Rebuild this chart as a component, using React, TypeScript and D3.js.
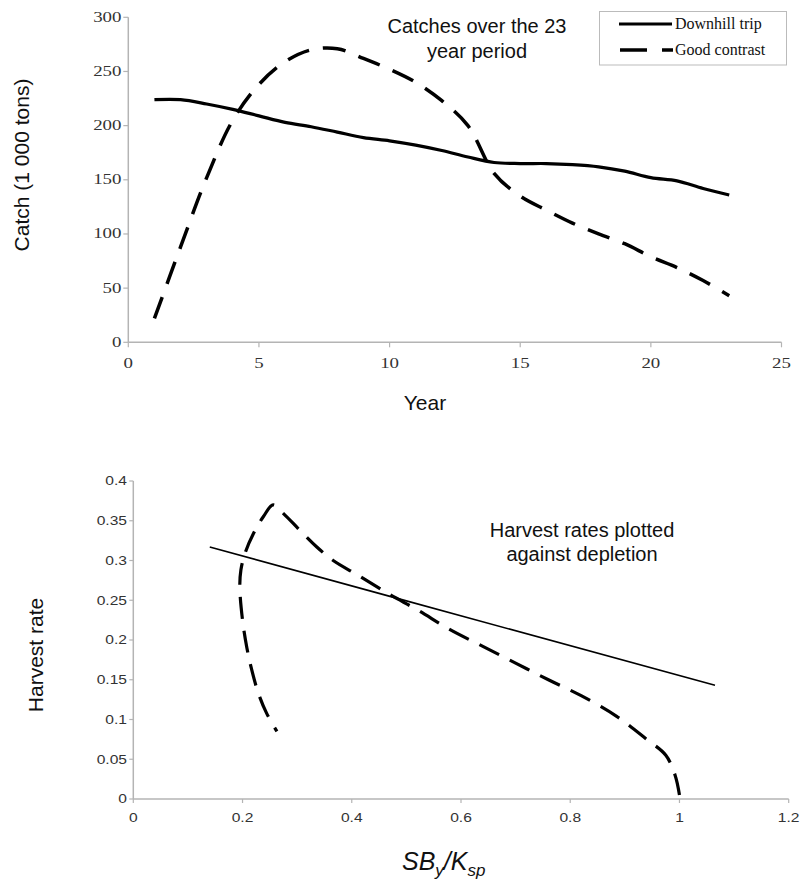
import React from "react";
import * as d3 from "d3";

// ---- Top chart data ----
const years = [1,2,3,4,5,6,7,8,9,10,11,12,13,14,15,16,17,18,19,20,21,22,23];
const downhillCatch = [224,224,220,215,209,203,199,194,189,186,182,177,171,166,165,165,164,162,158,152,149,142,136];
const goodCatch = [22,88,152,205,238,259,270,271,262,252,240,223,200,156,135,122,110,100,91,79,69,57,43];
const topXTicks = [0,5,10,15,20,25];
const topYTicks = [0,50,100,150,200,250,300];

// ---- Bottom chart data (depletion, harvest rate) ----
const downhillDepletion = [0.14,0.48,1.065];
const downhillHarvest = [0.317,0.253,0.143];
const goodDepletion = [1.0,0.992,0.975,0.94,0.885,0.82,0.76,0.70,0.64,0.58,0.52,0.47,0.41,0.366,0.336,0.305,0.275,0.256,0.238,0.22,0.2045,0.197,0.195,0.2,0.208,0.217,0.229,0.244,0.263];
const goodHarvest = [0.005,0.03,0.055,0.075,0.104,0.13,0.15,0.171,0.192,0.213,0.238,0.257,0.282,0.30,0.317,0.338,0.359,0.370,0.355,0.334,0.309,0.288,0.267,0.225,0.19,0.162,0.133,0.108,0.085];
const botXTicks = [0,0.2,0.4,0.6,0.8,1,1.2];
const botYTicks = [0,0.05,0.1,0.15,0.2,0.25,0.3,0.35,0.4];

const AXIS = "#b4b4b4";
const TICKTXT = "#333";

export default function App() {
  // top scales
  const x1 = d3.scaleLinear().domain([0, 25]).range([128.3, 781.5]);
  const y1 = d3.scaleLinear().domain([0, 300]).range([342.3, 17.3]);
  // bottom scales
  const x2 = d3.scaleLinear().domain([0, 1.2]).range([133.3, 788.7]);
  const y2 = d3.scaleLinear().domain([0, 0.4]).range([799, 481]);

  const topLine = d3.line<[number, number]>()
    .x(d => x1(d[0])).y(d => y1(d[1]))
    .curve(d3.curveCatmullRom.alpha(0.5));
  const dh = years.map((y, i) => [y, downhillCatch[i]] as [number, number]);
  const gc = years.map((y, i) => [y, goodCatch[i]] as [number, number]);

  const botLineLin = d3.line<[number, number]>()
    .x(d => x2(d[0])).y(d => y2(d[1]));
  const botLineCurve = d3.line<[number, number]>()
    .x(d => x2(d[0])).y(d => y2(d[1]))
    .curve(d3.curveCatmullRom.alpha(0.5));
  const dh2 = downhillDepletion.map((v, i) => [v, downhillHarvest[i]] as [number, number]);
  const gc2 = goodDepletion.map((v, i) => [v, goodHarvest[i]] as [number, number]);

  const serif = "'Liberation Serif', 'Times New Roman', serif";
  const sans = "'Liberation Sans', Arial, sans-serif";

  return (
    <svg width={801} height={884} viewBox="0 0 801 884"
      style={{ position: "absolute", left: 0, top: 0, background: "#fff" }}>
      <rect x={0} y={0} width={801} height={884} fill="#fff" />

      {/* ===== TOP CHART ===== */}
      <line x1={x1(0)} x2={x1(25)} y1={y1(0)} y2={y1(0)} stroke={AXIS} strokeWidth={1.5} />
      <line x1={x1(0)} x2={x1(0)} y1={y1(0)} y2={y1(300)} stroke={AXIS} strokeWidth={1.5} />
      {topXTicks.map(t => (
        <g key={"tx" + t}>
          <line x1={x1(t)} x2={x1(t)} y1={y1(0)} y2={y1(0) + 5} stroke={AXIS} strokeWidth={1.2} />
          <text transform={`translate(${x1(t)},368) scale(1.35,1)`} textAnchor="middle"
            fontFamily={serif} fontSize={14} fill={TICKTXT}>{t}</text>
        </g>
      ))}
      {topYTicks.map(t => (
        <g key={"ty" + t}>
          <line x1={x1(0) - 5} x2={x1(0)} y1={y1(t)} y2={y1(t)} stroke={AXIS} strokeWidth={1.2} />
          <text transform={`translate(121.5,${y1(t) + 4.5}) scale(1.35,1)`} textAnchor="end"
            fontFamily={serif} fontSize={14} fill={TICKTXT}>{t}</text>
        </g>
      ))}
      <path d={topLine(dh) || ""} fill="none" stroke="#000" strokeWidth={3.2} strokeLinejoin="round" />
      <path d={topLine(gc) || ""} fill="none" stroke="#000" strokeWidth={3.5} strokeDasharray="23,14" />

      <text transform="translate(29,165) rotate(-90)" textAnchor="middle" fontFamily={sans} fontSize={21} fill="#111">Catch (1 000 tons)</text>
      <text x={425} y={410} textAnchor="middle" fontFamily={sans} fontSize={21} fill="#111">Year</text>
      <text x={477} y={33} textAnchor="middle" fontFamily={sans} fontSize={20} fill="#111">Catches over the 23</text>
      <text x={477} y={58} textAnchor="middle" fontFamily={sans} fontSize={20} fill="#111">year period</text>

      {/* legend */}
      <rect x={599.5} y={11.5} width={187} height={53.5} fill="#fff" stroke="#bbb" strokeWidth={1} />
      <line x1={619} x2={672} y1={24} y2={24} stroke="#000" strokeWidth={3.2} />
      <line x1={620} x2={673} y1={50} y2={50} stroke="#000" strokeWidth={3.5} strokeDasharray="27,15" />
      <text x={675} y={29} fontFamily={serif} fontSize={16} fill="#111">Downhill trip</text>
      <text x={675} y={55} fontFamily={serif} fontSize={16} fill="#111">Good contrast</text>

      {/* ===== BOTTOM CHART ===== */}
      <line x1={x2(0)} x2={x2(1.2)} y1={y2(0)} y2={y2(0)} stroke={AXIS} strokeWidth={1.5} />
      <line x1={x2(0)} x2={x2(0)} y1={y2(0)} y2={y2(0.4)} stroke={AXIS} strokeWidth={1.5} />
      {botXTicks.map(t => (
        <g key={"bx" + t}>
          <line x1={x2(t)} x2={x2(t)} y1={y2(0)} y2={y2(0) + 4} stroke={AXIS} strokeWidth={1.2} />
          <text transform={`translate(${x2(t)},822) scale(1.3,1)`} textAnchor="middle"
            fontFamily={sans} fontSize={12} fill={TICKTXT}>{String(t)}</text>
        </g>
      ))}
      {botYTicks.map(t => (
        <g key={"by" + t}>
          <line x1={x2(0) - 4} x2={x2(0)} y1={y2(t)} y2={y2(t)} stroke={AXIS} strokeWidth={1.2} />
          <text transform={`translate(127,${y2(t) + 4.3}) scale(1.3,1)`} textAnchor="end"
            fontFamily={sans} fontSize={12} fill={TICKTXT}>{String(t)}</text>
        </g>
      ))}
      <path d={botLineLin(dh2) || ""} fill="none" stroke="#000" strokeWidth={1.6} />
      <path d={botLineCurve(gc2) || ""} fill="none" stroke="#000" strokeWidth={3.2} strokeDasharray="22,12" />

      <text transform="translate(43,655) rotate(-90)" textAnchor="middle" fontFamily={sans} fontSize={21} fill="#111">Harvest rate</text>
      <text x={582} y={537} textAnchor="middle" fontFamily={sans} fontSize={20} fill="#111">Harvest rates plotted</text>
      <text x={582} y={561} textAnchor="middle" fontFamily={sans} fontSize={20} fill="#111">against depletion</text>
      <text x={402} y={870} fontFamily={sans} fontSize={25} fontStyle="italic" fill="#111">
        SB<tspan fontSize={17} dy={6}>y</tspan><tspan fontSize={25} dy={-6}>/K</tspan><tspan fontSize={17} dy={6}>sp</tspan>
      </text>
    </svg>
  );
}
